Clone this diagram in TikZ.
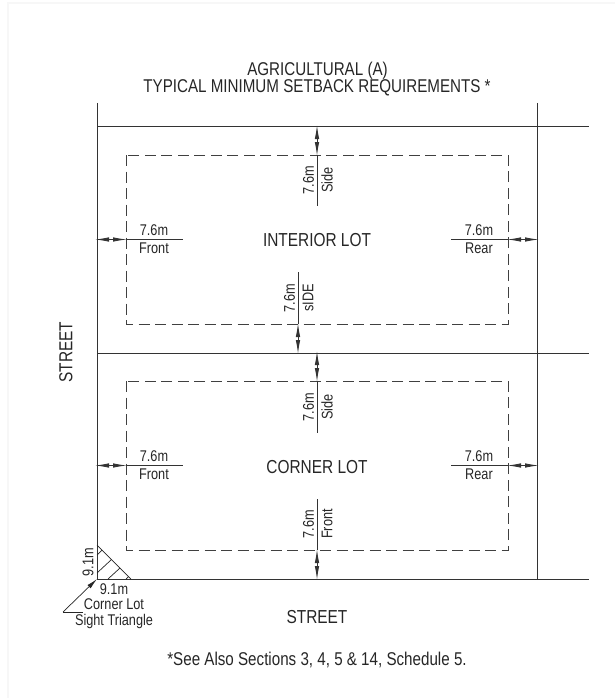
\documentclass[tikz,border=0pt]{standalone}
\usepackage{fontspec}
\setmainfont[FakeStretch=0.82]{Liberation Sans}
\usetikzlibrary{arrows.meta}
\tikzset{
  lotline/.style={line width=1pt,draw=black!80},
  setback/.style={line width=1pt,draw=black!75,dash pattern=on 11pt off 5.5pt},
  dimline/.style={line width=0.9pt,draw=black!80},
  dimboth/.style={dimline,{Latex[length=14pt,width=4.5pt]}-{Latex[length=14pt,width=4.5pt]}},
  hatch/.style={line width=0.7pt,draw=black!85},
  lbl/.style={inner sep=0pt,text=black!85,font=\fontsize{15.5}{16}\selectfont},
  titlelbl/.style={inner sep=0pt,text=black!85,font=\fontsize{18.5}{19}\selectfont},
  big/.style={inner sep=0pt,text=black!85,font=\fontsize{18.8}{19}\selectfont},
  frameline/.style={line width=2pt,draw=black!3}
}
\begin{document}
\begin{tikzpicture}[x=1pt,y=-1pt]
\useasboundingbox (0,0) rectangle (615,698);
% faint frame
\draw[frameline] (8,698) -- (8,3.5) -- (615,3.5);
% lot lines
\coordinate (TLv) at (97,103); \coordinate (BLv) at (97,579);
\coordinate (TRv) at (537,103); \coordinate (BRv) at (537,579);
\draw[lotline] (TLv) -- (BLv);
\draw[lotline] (TRv) -- (BRv);
\draw[lotline] (97,126.5) -- (589,126.5);
\draw[lotline] (97,353) -- (589,353);
\draw[lotline] (97,579) -- (589,579);
% setbacks
\draw[setback] (126,155) rectangle (508,324);
\draw[setback] (126,381) rectangle (508,550);
% vertical dims
\draw[dimboth] (317,125) -- (317,156);
\draw[dimline] (317,155) -- (317,206);
\draw[dimboth] (298,323) -- (298,354);
\draw[dimline] (298,272) -- (298,324);
\draw[dimboth] (317,351) -- (317,382);
\draw[dimline] (317,381) -- (317,433);
\draw[dimboth] (317,549) -- (317,580);
\draw[dimline] (317,499) -- (317,550);
% horizontal dims
\draw[dimboth] (95,239.5) -- (127,239.5);
\draw[dimline] (126,239.5) -- (183,239.5);
\draw[dimboth] (507,239.5) -- (539,239.5);
\draw[dimline] (451,239.5) -- (508,239.5);
\draw[dimboth] (95,465.5) -- (127,465.5);
\draw[dimline] (126,465.5) -- (183,465.5);
\draw[dimboth] (507,465.5) -- (539,465.5);
\draw[dimline] (451,465.5) -- (508,465.5);
% sight triangle
\draw[hatch] (97,545) -- (131,579);
\draw[hatch] (97,555) -- (102,550);
\draw[hatch] (97,573) -- (111.5,559.5);
\draw[hatch] (108,579) -- (120,568);
\draw[hatch] (126,579) -- (128.5,576.5);
\coordinate (leadA) at (83,612); \coordinate (leadB) at (63,612); \coordinate (leadC) at (97,579);
\draw[hatch] (leadA) -- (leadB);
\draw[hatch,-{Latex[length=11pt,width=4.5pt]}] (leadB) -- (leadC);
% titles
\node[titlelbl] (t1) at (317.5,71) {AGRICULTURAL (A)};
\node[titlelbl] (t2) at (317,88) {TYPICAL MINIMUM SETBACK REQUIREMENTS *};
\node[big] (interior) at (317,240) {INTERIOR LOT};
\node[big] (corner) at (317,467) {CORNER LOT};
\node[big,rotate=90] (st1) at (66,352) {STREET};
\node[big] (st2) at (317,617) {STREET};
\node[titlelbl] (note) at (317,660) {*See Also Sections 3, 4, 5 \& 14, Schedule 5.};
% dim labels horizontal
\node[lbl] (a1) at (154,230.5) {7.6m};
\node[lbl] (a2) at (154,248) {Front};
\node[lbl] (b1) at (479,230.5) {7.6m};
\node[lbl] (b2) at (479,248) {Rear};
\node[lbl] (c1) at (154,456.5) {7.6m};
\node[lbl] (c2) at (154,474) {Front};
\node[lbl] (d1) at (479,456.5) {7.6m};
\node[lbl] (d2) at (479,474) {Rear};
% dim labels vertical
\node[lbl,rotate=90] (e1) at (308.5,180) {7.6m};
\node[lbl,rotate=90] (e2) at (327,180) {Side};
\node[lbl,rotate=90] (f1) at (289.5,298) {7.6m};
\node[lbl,rotate=90] (f2) at (308,298) {sIDE};
\node[lbl,rotate=90] (g1) at (308.5,407) {7.6m};
\node[lbl,rotate=90] (g2) at (327,407) {Side};
\node[lbl,rotate=90] (h1) at (308.5,524) {7.6m};
\node[lbl,rotate=90] (h2) at (327,524) {Front};
% triangle labels
\node[lbl,rotate=90] (v91) at (88,562) {9.1m};
\node[lbl] (h91) at (114,589) {9.1m};
\node[lbl] (cl) at (114,604) {Corner Lot};
\node[lbl] (stl) at (114,621) {Sight Triangle};
\end{tikzpicture}
\end{document}
